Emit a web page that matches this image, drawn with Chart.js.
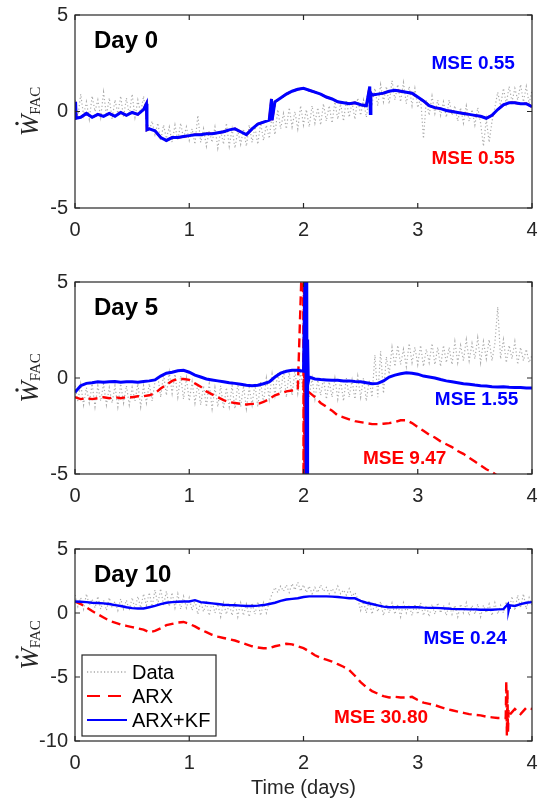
<!DOCTYPE html>
<html>
<head>
<meta charset="utf-8">
<script src="https://cdn.jsdelivr.net/npm/chart.js@4.4.0/dist/chart.umd.min.js"></script>
<style>
  body { margin: 0; background: #fff; }
  #wrap { position: relative; width: 539px; height: 802px; }
  canvas { position: absolute; left: 0; }
</style>
</head>
<body>
<div id="wrap">
  <canvas id="day0" width="539" height="248" style="top:0px"></canvas>
  <canvas id="day5" width="539" height="247" style="top:267px"></canvas>
  <canvas id="day10" width="539" height="268" style="top:534px"></canvas>
</div>
<script>
// sampling grids (days)
let tLine = [];
for (let i = 0; i <= 80; i++) tLine.push(+(i * 0.05).toFixed(3));
let tData = [];
for (let i = 0; i <= 160; i++) tData.push(+(i * 0.025).toFixed(3));

// ---- Day 0 ----
let day0Data = [0.6,-0.3,0.9,-0.2,0.5,-0.4,0.8,0.0,0.6,-0.3,1.0,-0.2,0.7,-0.4,0.6,-0.1,0.8,-0.3,0.7,-0.2,0.9,-0.3,0.6,-0.1,0.8,
  -0.4,-1.0,-0.5,-1.2,
  -0.6,-1.5,-0.7,-1.4,-0.8,-1.6,-0.7,-1.5,-0.6,-1.4,-0.8,-1.5,
  -0.9,-1.7,-0.2,-1.6,-0.9,-1.8,-1.0,-1.6,-0.8,-1.9,-1.0,-1.7,-0.6,-1.8,-0.9,-1.9,-1.0,-1.7,-0.9,-1.8,
  -0.7,-1.6,-0.8,-1.7,-0.6,-1.5,-0.7,-1.4,
  -0.2,-1.2,0.1,-0.9,-0.1,-0.9,0.2,-0.8,0.0,-0.9,0.3,-0.7,0.1,-0.8,0.3,-0.6,0.2,-0.7,0.4,-0.5,0.3,-0.6,0.5,-0.4,0.4,-0.5,0.6,-0.3,0.5,-0.4,0.7,-0.2,
  0.6,-0.3,0.7,
  0.4,1.2,0.3,1.4,0.5,1.3,0.4,1.6,0.6,1.4,0.5,1.5,0.4,1.3,0.3,1.2,0.2,
  0.7,-1.4,0.6,-0.2,0.8,-0.1,0.6,-0.2,0.5,-0.3,0.6,-0.2,
  0.3,-0.5,0.2,-0.6,0.3,-0.5,0.1,-0.7,0.2,-0.6,
  -1.8,-0.4,-1.6,-0.5,
  0.2,1.0,0.3,1.2,0.4,1.3,0.5,1.2,0.6,1.4,0.5,1.3,0.4,1.1];
let day0Kf = [0.2,-0.3,-0.1,-0.3,-0.15,-0.25,-0.1,-0.25,-0.05,-0.2,
  -0.05,-0.15,0.1,-0.9,-1.0,-1.35,-1.5,-1.35,-1.35,-1.3,
  -1.25,-1.2,-1.2,-1.15,-1.15,-1.1,-1.05,-0.95,-0.9,-1.05,
  -1.2,-0.9,-0.65,-0.55,-0.45,0.5,0.7,0.9,1.05,1.15,
  1.2,1.1,1.0,0.9,0.75,0.65,0.5,0.45,0.4,0.45,
  0.35,0.3,0.85,0.9,0.95,1.05,1.1,1.05,1.0,0.95,
  0.75,0.55,0.3,0.2,0.15,0.05,0.0,-0.05,-0.1,-0.15,
  -0.2,-0.25,-0.35,-0.2,0.1,0.35,0.45,0.45,0.4,0.4,
  0.25];
let day0Arx = day0Kf.slice();   // identical on day 0 (same MSE)
let day0SpikeT = [0.005, 0.01, 0.625, 0.63, 1.72, 1.725, 2.58, 2.585, 2.59];
let day0SpikeKf = [0.5, -0.35, 0.4, -0.95, 0.65, -0.45, 1.3, -0.1, 0.95];

// ---- Day 5 ----
let day5Data = [-0.4,-1.2,-0.3,-1.4,-0.5,-1.3,-0.3,-1.5,-0.4,-1.2,-0.3,-1.4,-0.5,-1.3,-0.4,-1.5,-0.3,-1.3,-0.4,-1.4,-0.5,-1.2,-0.3,-1.5,-0.4,-1.3,-0.3,-1.2,-0.2,
  0.1,-1.0,0.2,-0.9,0.3,-0.8,0.2,-1.0,0.1,-1.1,0.0,-1.2,-0.2,-1.3,
  -0.3,-1.4,-0.4,-1.5,-0.3,-1.6,-0.5,-1.5,-0.4,-1.6,-0.5,-1.5,-0.4,-1.6,-0.3,-1.5,-0.4,-1.6,-0.5,-1.4,-0.3,-1.5,-0.2,-1.3,
  0.0,-1.1,0.2,-0.9,0.3,-0.8,0.4,-1.0,0.3,-0.9,0.4,-0.8,0.3,-0.9,
  -0.1,-1.0,0.0,-1.1,-0.1,-0.9,0.0,-1.1,-0.2,-1.0,0.0,-1.1,-0.1,-1.2,0.0,-1.0,-0.1,-1.1,0.1,-1.0,0.0,-1.2,-0.1,-1.0,
  1.2,-1.0,1.4,-0.8,1.1,0.2,
  1.6,0.6,1.7,0.7,1.5,0.6,1.8,0.8,1.6,0.7,1.7,0.6,1.5,0.8,1.8,0.7,1.6,0.6,1.7,0.8,1.6,0.7,1.9,0.8,1.7,0.9,
  2.0,0.9,1.8,1.0,2.1,0.8,1.9,1.0,2.0,0.9,1.8,3.7,1.0,2.0,0.8,1.7,1.0,1.9,0.7,1.6,0.9,1.5,0.8,1.2];
let day5Kf = [-0.75,-0.4,-0.28,-0.25,-0.2,-0.22,-0.2,-0.18,-0.22,-0.2,
  -0.2,-0.22,-0.18,-0.15,-0.1,0.1,0.25,0.3,0.38,0.4,
  0.3,0.15,0.05,-0.05,-0.1,-0.15,-0.2,-0.25,-0.28,-0.33,
  -0.38,-0.4,-0.38,-0.3,-0.2,0.05,0.25,0.35,0.4,0.4,
  0.35,0.05,-0.05,-0.08,-0.1,-0.12,-0.12,-0.15,-0.15,-0.18,
  -0.2,-0.25,-0.3,-0.28,-0.15,0.05,0.15,0.22,0.27,0.25,
  0.2,0.1,0.05,0.0,-0.08,-0.15,-0.2,-0.25,-0.3,-0.33,
  -0.37,-0.4,-0.42,-0.45,-0.47,-0.45,-0.48,-0.5,-0.5,-0.52,
  -0.52];
let day5Arx = [-1.0,-1.1,-1.05,-1.1,-1.05,-1.0,-1.05,-1.0,-1.05,-1.0,
  -1.0,-0.95,-0.95,-0.9,-0.8,-0.55,-0.35,-0.15,-0.05,-0.05,
  -0.1,-0.28,-0.45,-0.7,-0.85,-1.0,-1.15,-1.25,-1.3,-1.35,
  -1.38,-1.35,-1.35,-1.25,-1.1,-0.9,-0.8,-0.7,-0.65,-0.6,
  -0.6,-0.75,-1.0,-1.3,-1.5,-1.7,-1.95,-2.05,-2.15,-2.25,
  -2.3,-2.35,-2.4,-2.4,-2.38,-2.35,-2.3,-2.2,-2.2,-2.35,
  -2.55,-2.75,-2.95,-3.1,-3.3,-3.45,-3.6,-3.8,-3.95,-4.15,
  -4.35,-4.55,-4.75,-4.9,-5.1,-5.3,-5.5,-5.7,-5.9,-6.1,
  -6.3];
let day5SpikeT = [1.996, 2.0, 2.004, 2.008, 2.012, 2.016, 2.02, 2.025];
let day5SpikeArx = [8, -8, 8, -8, 6, -6, 2, -1.5];
let day5KfSpikeT = [2.02, 2.024, 2.028, 2.032, 2.036, 2.042];
let day5SpikeKf = [8, -8, 7, -8, 2, -0.2];

// ---- Day 10 ----
let day10Data = [1.4,0.5,1.2,0.3,1.5,0.6,1.1,0.4,1.3,0.3,1.0,0.2,1.2,0.4,0.9,0.2,1.1,0.3,1.0,0.2,1.2,0.3,1.3,0.4,1.5,
  0.6,1.6,0.5,1.8,0.7,1.9,0.6,1.7,0.5,1.6,0.4,1.5,0.3,1.3,0.4,1.2,
  0.2,1.0,-0.1,0.9,0.1,0.8,-0.2,0.9,0.0,0.7,-0.3,0.8,-0.1,0.7,-0.2,0.9,-0.3,0.8,-0.2,0.7,-0.3,0.8,-0.1,0.9,-0.2,0.8,0.0,0.9,
  1.5,2.0,1.6,2.1,1.7,2.2,1.6,2.3,1.8,2.4,1.7,2.2,1.6,2.1,1.5,2.0,1.6,2.2,1.7,2.0,1.5,1.9,1.6,2.1,1.5,1.8,1.4,1.9,1.3,1.6,
  1.1,0.2,0.9,0.0,1.0,-0.1,0.8,0.1,0.9,-0.2,0.7,0.0,0.8,-0.1,0.7,-0.3,0.8,0.0,0.6,-0.2,
  0.7,-0.1,0.8,-0.2,0.6,-0.3,0.7,-0.1,0.8,0.0,0.6,-0.2,0.7,-0.1,0.6,-0.3,0.7,0.0,0.8,-0.2,
  0.6,-0.1,0.7,-0.3,0.6,0.0,0.7,-0.2,0.8,-0.1,0.6,0.0,0.9,
  0.3,1.3,0.2,1.4,0.4,1.5,0.3,1.2,0.6];
let day10Kf = [0.9,0.88,0.85,0.8,0.78,0.75,0.7,0.62,0.55,0.45,
  0.38,0.35,0.35,0.45,0.55,0.7,0.8,0.85,0.88,0.9,
  0.9,1.0,0.85,0.8,0.75,0.7,0.65,0.62,0.6,0.58,
  0.55,0.55,0.58,0.62,0.7,0.8,0.95,1.05,1.1,1.15,
  1.25,1.3,1.3,1.3,1.3,1.28,1.25,1.2,1.15,1.15,
  0.95,0.8,0.7,0.6,0.5,0.45,0.45,0.45,0.45,0.45,
  0.45,0.42,0.4,0.4,0.38,0.35,0.32,0.3,0.3,0.28,
  0.28,0.25,0.25,0.25,0.28,0.3,0.4,0.55,0.7,0.8,
  0.85];
let day10Arx = [0.9,0.7,0.45,0.15,-0.1,-0.35,-0.6,-0.75,-0.9,-1.0,
  -1.1,-1.2,-1.3,-1.5,-1.4,-1.2,-0.95,-0.85,-0.75,-0.7,
  -0.85,-1.05,-1.3,-1.5,-1.7,-1.85,-1.95,-2.05,-2.15,-2.3,
  -2.45,-2.6,-2.7,-2.75,-2.75,-2.6,-2.5,-2.4,-2.45,-2.6,
  -2.75,-3.0,-3.3,-3.5,-3.65,-3.8,-4.0,-4.2,-4.45,-4.9,
  -5.4,-5.8,-6.1,-6.3,-6.5,-6.6,-6.55,-6.6,-6.6,-6.55,
  -6.8,-7.0,-7.1,-7.2,-7.35,-7.5,-7.6,-7.7,-7.8,-7.9,
  -7.95,-8.0,-8.1,-8.15,-8.2,-8.2,-8.0,-7.5,-7.9,-7.4,
  -7.5];
let day10SpikeT = [3.77, 3.775, 3.78, 3.785, 3.79, 3.795];
let day10SpikeArx = [-8.2, -5.3, -9.6, -6.0, -9.3, -7.6];
let day10KfSpikeT = [3.79, 3.795, 3.805];
let day10SpikeKf = [0.7, 0.2, 0.6];

let axisColor = '#262626';
Chart.defaults.font.family = "'Liberation Sans', Arial, Helvetica, sans-serif";

function toPoints(times, values, spikeT, spikeY) {
    let pts = times.map((t, i) => ({ x: t, y: values[i] }));
    if (spikeT) {
        spikeT.forEach((t, i) => pts.push({ x: t, y: spikeY[i] }));
        pts.sort((a, b) => a.x - b.x);
    }
    return pts;
}

// frame, inward ticks, y label, panel texts and the legend
const panelDecor = {
    id: 'panelDecor',
    afterDatasetsDraw(chart, args, opts) {
        let ctx = chart.ctx;
        let a = chart.chartArea;
        let xs = chart.scales.x;
        let ys = chart.scales.y;
        ctx.save();

        // box and ticks
        ctx.strokeStyle = axisColor;
        ctx.lineWidth = 1.2;
        ctx.strokeRect(a.left, a.top, a.right - a.left, a.bottom - a.top);
        ctx.beginPath();
        xs.ticks.forEach(tk => {
            let px = xs.getPixelForValue(tk.value);
            ctx.moveTo(px, a.bottom); ctx.lineTo(px, a.bottom - 5);
            ctx.moveTo(px, a.top); ctx.lineTo(px, a.top + 5);
        });
        ys.ticks.forEach(tk => {
            let py = ys.getPixelForValue(tk.value);
            ctx.moveTo(a.left, py); ctx.lineTo(a.left + 5, py);
            ctx.moveTo(a.right, py); ctx.lineTo(a.right - 5, py);
        });
        ctx.stroke();

        // y label: W-dot with FAC subscript
        let cy = (a.top + a.bottom) / 2;
        ctx.translate(38, cy);
        ctx.rotate(-Math.PI / 2);
        ctx.fillStyle = axisColor;
        ctx.textBaseline = 'alphabetic';
        ctx.textAlign = 'left';
        ctx.font = "italic 26px 'Liberation Serif', 'Times New Roman', serif";
        let wW = ctx.measureText('W').width;
        ctx.font = "15px 'Liberation Serif', 'Times New Roman', serif";
        let subW = ctx.measureText('FAC').width;
        let x0 = -(wW + subW) / 2;
        ctx.font = "italic 26px 'Liberation Serif', 'Times New Roman', serif";
        ctx.fillText('W', x0, 0);
        ctx.beginPath();
        ctx.arc(x0 + wW / 2 + 2, -21, 1.7, 0, Math.PI * 2);
        ctx.fill();
        ctx.font = "15px 'Liberation Serif', 'Times New Roman', serif";
        ctx.fillText('FAC', x0 + wW, 2);
        ctx.setTransform(1, 0, 0, 1, 0, 0);

        // Day label
        ctx.fillStyle = '#000';
        ctx.font = "bold 24px 'Liberation Sans', Arial, sans-serif";
        ctx.textAlign = 'left';
        ctx.textBaseline = 'alphabetic';
        ctx.fillText(opts.day, xs.getPixelForValue(0.166), a.top + 33);

        // MSE notes
        ctx.font = "bold 19px 'Liberation Sans', Arial, sans-serif";
        ctx.textAlign = 'right';
        ctx.textBaseline = 'middle';
        opts.notes.forEach(n => {
            ctx.fillStyle = n.color;
            ctx.fillText(n.text, xs.getPixelForValue(n.t), ys.getPixelForValue(n.y));
        });

        // legend box
        if (opts.legend) {
            let lx = a.left + 7, ly = a.top + 106, lw = 134, lh = 81;
            ctx.fillStyle = '#fff';
            ctx.fillRect(lx, ly, lw, lh);
            ctx.strokeStyle = axisColor;
            ctx.lineWidth = 1.2;
            ctx.strokeRect(lx, ly, lw, lh);
            let rows = [
                { text: 'Data', color: '#a8a8a8', width: 1.3, dash: [1.2, 2.2] },
                { text: 'ARX', color: '#ff0000', width: 2, dash: [13, 8] },
                { text: 'ARX+KF', color: '#0000ff', width: 2, dash: [] }
            ];
            ctx.font = "20px 'Liberation Sans', Arial, sans-serif";
            ctx.textAlign = 'left';
            ctx.textBaseline = 'middle';
            rows.forEach((r, i) => {
                let ry = ly + 17 + i * 24;
                ctx.beginPath();
                ctx.strokeStyle = r.color;
                ctx.lineWidth = r.width;
                ctx.setLineDash(r.dash);
                ctx.moveTo(lx + 5, ry);
                ctx.lineTo(lx + 45, ry);
                ctx.stroke();
                ctx.setLineDash([]);
                ctx.fillStyle = '#000';
                ctx.fillText(r.text, lx + 50, ry + 1);
            });
        }
        ctx.restore();
    }
};

function makePanel(id, cfg) {
    let ctx = document.getElementById(id).getContext('2d');
    return new Chart(ctx, {
        type: 'line',
        data: {
            datasets: [
                { label: 'ARX+KF', data: cfg.kf, borderColor: '#0000ff', borderWidth: cfg.kfWidth, order: 1 },
                { label: 'ARX', data: cfg.arx, borderColor: '#ff0000', borderWidth: 2.4, borderDash: [9, 5], order: 2 },
                { label: 'Data', data: cfg.data, borderColor: '#ababab', borderWidth: 1.2, borderDash: [1.2, 2.4], order: 3 }
            ]
        },
        options: {
            responsive: false,
            animation: false,
            devicePixelRatio: 1,
            parsing: false,
            layout: { padding: { top: 15, right: 7, left: 0, bottom: 0 } },
            elements: { point: { radius: 0 }, line: { tension: 0 } },
            plugins: {
                legend: { display: false },
                tooltip: { enabled: false },
                panelDecor: cfg.decor
            },
            scales: {
                x: {
                    type: 'linear', min: 0, max: 4,
                    grid: { display: false, drawTicks: false },
                    border: { display: false },
                    ticks: { stepSize: 1, padding: 10, color: axisColor, font: { size: 20 } },
                    title: { display: !!cfg.xTitle, text: cfg.xTitle || '', color: axisColor, font: { size: 20 }, padding: { top: 0, bottom: 2 } },
                    afterFit: s => {
                        s.height = cfg.xHeight;
                        s.paddingLeft = 0;
                        s.paddingRight = 0;
                    }
                },
                y: {
                    type: 'linear', min: cfg.yMin, max: 5,
                    grid: { display: false, drawTicks: false },
                    border: { display: false },
                    ticks: { stepSize: 5, padding: 7, color: axisColor, font: { size: 20 } },
                    afterFit: s => {
                        s.width = 75;
                        s.paddingTop = 0;
                        s.paddingBottom = 0;
                    }
                }
            }
        },
        plugins: [panelDecor]
    });
}

window.onload = function() {
    makePanel('day0', {
        data: toPoints(tData, day0Data),
        kf: toPoints(tLine, day0Kf, day0SpikeT, day0SpikeKf),
        arx: toPoints(tLine, day0Arx, day0SpikeT, day0SpikeKf),
        kfWidth: 3,
        yMin: -5,
        xHeight: 40,
        decor: {
            day: 'Day 0',
            notes: [
                { text: 'MSE 0.55', color: '#0000ff', t: 3.85, y: 2.45 },
                { text: 'MSE 0.55', color: '#ff0000', t: 3.85, y: -2.45 }
            ]
        }
    });
    makePanel('day5', {
        data: toPoints(tData, day5Data),
        kf: toPoints(tLine, day5Kf, day5KfSpikeT, day5SpikeKf),
        arx: toPoints(tLine, day5Arx, day5SpikeT, day5SpikeArx),
        kfWidth: 3,
        yMin: -5,
        xHeight: 40,
        decor: {
            day: 'Day 5',
            notes: [
                { text: 'MSE 1.55', color: '#0000ff', t: 3.88, y: -1.15 },
                { text: 'MSE 9.47', color: '#ff0000', t: 3.25, y: -4.2 }
            ]
        }
    });
    makePanel('day10', {
        data: toPoints(tData, day10Data),
        kf: toPoints(tLine, day10Kf, day10KfSpikeT, day10SpikeKf),
        arx: toPoints(tLine, day10Arx, day10SpikeT, day10SpikeArx),
        kfWidth: 2.4,
        yMin: -10,
        xHeight: 61,
        xTitle: 'Time (days)',
        decor: {
            day: 'Day 10',
            legend: true,
            notes: [
                { text: 'MSE 0.24', color: '#0000ff', t: 3.78, y: -2.04 },
                { text: 'MSE 30.80', color: '#ff0000', t: 3.09, y: -8.2 }
            ]
        }
    });
};
</script>
</body>
</html>
